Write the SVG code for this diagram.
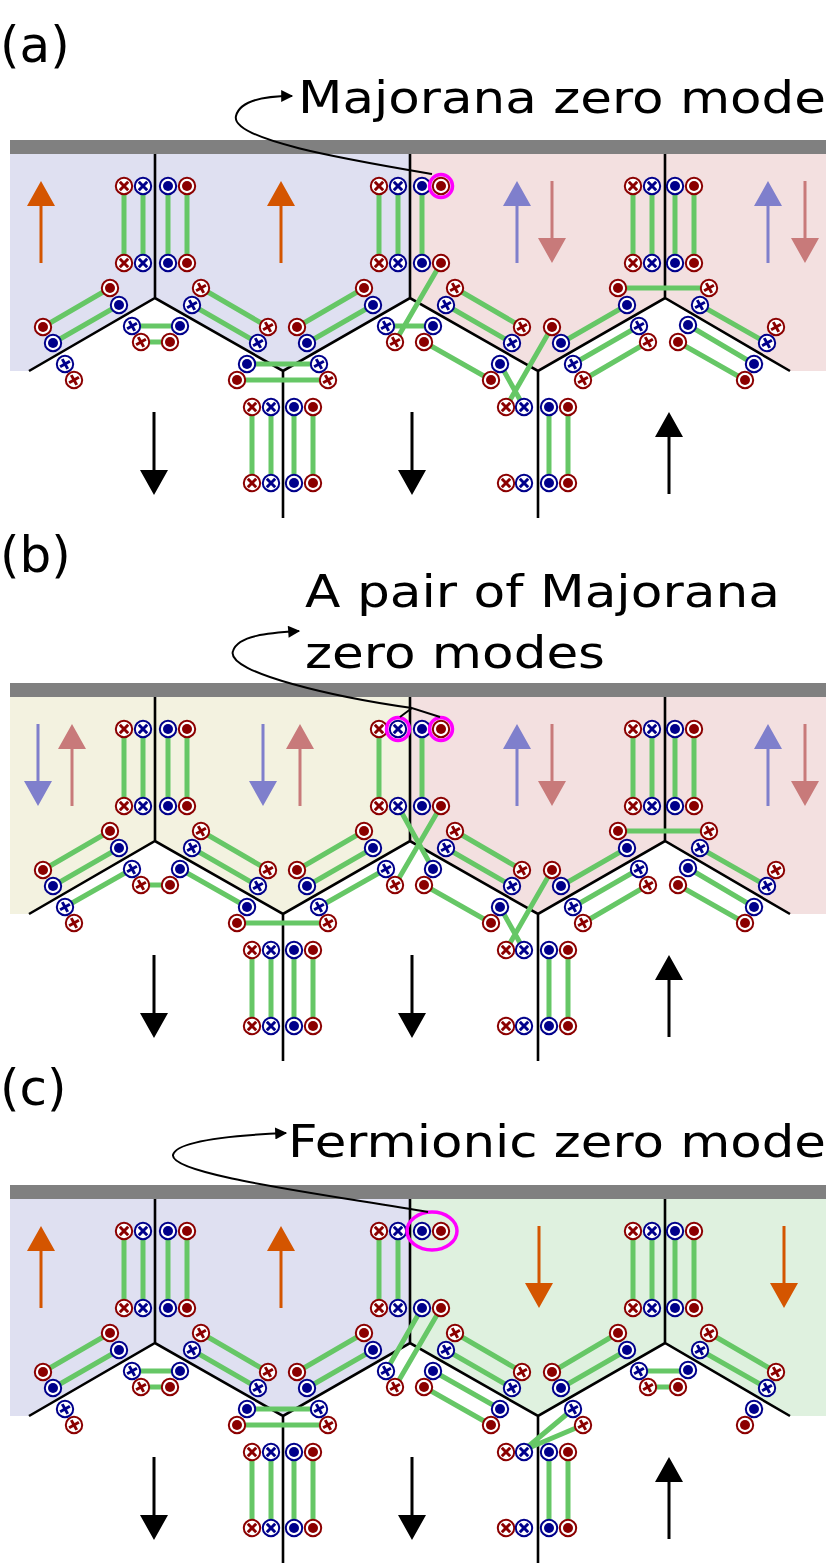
<svg xmlns="http://www.w3.org/2000/svg" xmlns:xlink="http://www.w3.org/1999/xlink" width="830" height="1563" viewBox="0 0 830 1563">
<style>
.t{font-family:"DejaVu Sans",sans-serif;font-size:45px;fill:#000}
.p{font-family:"DejaVu Sans",sans-serif;font-size:50px;fill:#000}
.b{stroke:#66c766;stroke-width:5;fill:none;stroke-linecap:butt}
.k{stroke:#000;stroke-width:2.6;fill:none}
.cr{fill:#fff;stroke:#8b0000;stroke-width:2}
.cb{fill:#fff;stroke:#00008b;stroke-width:2}
.lr{stroke:#8b0000;stroke-width:3}
.lb{stroke:#00008b;stroke-width:3}
.mg{fill:none;stroke:#ff00ff;stroke-width:3.5}
.cv{fill:none;stroke:#000;stroke-width:2}
</style>
<defs>
<g id="dR"><circle class="cr" r="8.2"/><circle r="5" fill="#8b0000"/></g>
<g id="dB"><circle class="cb" r="8.2"/><circle r="5" fill="#00008b"/></g>
<g id="xR"><circle class="cr" r="8.2"/><path class="lr" d="M-4.2,-4.2L4.2,4.2M-4.2,4.2L4.2,-4.2"/></g>
<g id="xB"><circle class="cb" r="8.2"/><path class="lb" d="M-4.2,-4.2L4.2,4.2M-4.2,4.2L4.2,-4.2"/></g>
<g id="pR"><circle class="cr" r="8.2"/><path class="lr" d="M-2.3,-5.1L2.3,5.1M-5.1,2.3L5.1,-2.3" transform="rotate(-5)"/></g>
<g id="pB"><circle class="cb" r="8.2"/><path class="lb" d="M-2.3,-5.1L2.3,5.1M-5.1,2.3L5.1,-2.3" transform="rotate(-5)"/></g>
<marker id="ah" viewBox="0 0 10 10" refX="9" refY="5" markerWidth="14" markerHeight="12" orient="auto" markerUnits="userSpaceOnUse"><path d="M0,0L10,5L0,10z"/></marker>
<g id="lattice">
<rect x="10" y="140" width="816" height="14" fill="#808080"/>
<path class="k" d="M155,154V298M410,154V298M665,154V298M29,371L155,298L283,371L410,298L538,371L665,298L790,371M283,371V518M538,371V518"/>
</g>
<g id="atoms">
<use href="#xR" x="124" y="186"/><use href="#xB" x="143" y="186"/><use href="#dB" x="168" y="186"/><use href="#dR" x="187" y="186"/>
<use href="#xR" x="124" y="263"/><use href="#xB" x="143" y="263"/><use href="#dB" x="168" y="263"/><use href="#dR" x="187" y="263"/>
<use href="#xR" x="379" y="186"/><use href="#xB" x="398" y="186"/><use href="#dB" x="422" y="186"/><use href="#dR" x="441" y="186"/>
<use href="#xR" x="379" y="263"/><use href="#xB" x="398" y="263"/><use href="#dB" x="422" y="263"/><use href="#dR" x="441" y="263"/>
<use href="#xR" x="633" y="186"/><use href="#xB" x="652" y="186"/><use href="#dB" x="675" y="186"/><use href="#dR" x="694" y="186"/>
<use href="#xR" x="633" y="263"/><use href="#xB" x="652" y="263"/><use href="#dB" x="675" y="263"/><use href="#dR" x="694" y="263"/>
<use href="#xR" x="252" y="407"/><use href="#xB" x="271" y="407"/><use href="#dB" x="294" y="407"/><use href="#dR" x="313" y="407"/>
<use href="#xR" x="252" y="483"/><use href="#xB" x="271" y="483"/><use href="#dB" x="294" y="483"/><use href="#dR" x="313" y="483"/>
<use href="#xR" x="506" y="407"/><use href="#xB" x="524" y="407"/><use href="#dB" x="549" y="407"/><use href="#dR" x="568" y="407"/>
<use href="#xR" x="506" y="483"/><use href="#xB" x="524" y="483"/><use href="#dB" x="549" y="483"/><use href="#dR" x="568" y="483"/>
<use href="#dR" x="110" y="288"/><use href="#dB" x="119" y="305"/><use href="#dR" x="43" y="327"/><use href="#dB" x="53" y="343"/>
<use href="#pB" x="65" y="364"/><use href="#pR" x="74" y="380"/>
<use href="#pB" x="132" y="326"/><use href="#dB" x="180" y="326"/><use href="#pR" x="141" y="342"/><use href="#dR" x="170" y="342"/>
<use href="#pR" x="201" y="288"/><use href="#pB" x="192" y="305"/><use href="#pR" x="268" y="327"/><use href="#pB" x="258" y="343"/>
<use href="#dR" x="364" y="288"/><use href="#dB" x="373" y="305"/><use href="#dR" x="297" y="327"/><use href="#dB" x="307" y="343"/>
<use href="#dB" x="247" y="364"/><use href="#pB" x="319" y="364"/><use href="#dR" x="237" y="380"/><use href="#pR" x="328" y="380"/>
<use href="#pB" x="386" y="326"/><use href="#dB" x="433" y="326"/><use href="#pR" x="395" y="342"/><use href="#dR" x="424" y="342"/>
<use href="#pR" x="455" y="288"/><use href="#pB" x="446" y="305"/><use href="#pR" x="522" y="327"/><use href="#pB" x="512" y="343"/>
<use href="#dB" x="500" y="364"/><use href="#dR" x="491" y="380"/><use href="#dR" x="552" y="327"/><use href="#dB" x="561" y="343"/>
<use href="#pB" x="573" y="364"/><use href="#pR" x="583" y="380"/>
<use href="#dR" x="618" y="288"/><use href="#dB" x="627" y="305"/><use href="#pB" x="639" y="326"/><use href="#pR" x="648" y="342"/>
<use href="#pR" x="709" y="288"/><use href="#pB" x="700" y="305"/><use href="#dB" x="688" y="325"/><use href="#dR" x="678" y="342"/>
<use href="#pR" x="776" y="327"/><use href="#pB" x="767" y="343"/><use href="#dB" x="754" y="364"/><use href="#dR" x="745" y="380"/>
</g>
<g id="blackArrows">
<path d="M154,412V472M412,412V472M669,494V434" stroke="#000" stroke-width="3"/>
<path d="M140,470H168L154,495zM398,470H426L412,495zM655,437H683L669,412z"/>
</g>
<path id="commonBonds" class="b" d="M124,186V263M143,186V263M168,186V263M187,186V263M633,186V263M652,186V263M675,186V263M694,186V263M252,407V483M271,407V483M294,407V483M313,407V483M549,407V483M568,407V483M110,288L43,327M119,305L53,343M201,288L268,327M192,305L258,343M364,288L297,327M373,305L307,343M455,288L522,327M446,305L512,343"/>
</defs>

<g id="panel-a">
<text class="p" x="0" y="62">(a)</text>
<path d="M10,154H410V298L283,371L155,298L29,371H10z" fill="#dfe0f1"/>
<path d="M410,154H826V371H790L665,298L538,371L410,298z" fill="#f3e0e0"/>
<use href="#lattice"/>
<g id="arrows-a">
<path d="M41,263V204M281,263V204" stroke="#d45500" stroke-width="3"/><path d="M27,206H55L41,181zM267,206H295L281,181z" fill="#d45500"/>
<path d="M517,263V204M768,263V204" stroke="#7f7fcc" stroke-width="3"/><path d="M503,206H531L517,181zM754,206H782L768,181z" fill="#7f7fcc"/>
<path d="M552,181V240M805,181V240" stroke="#c87a7a" stroke-width="3"/><path d="M538,238H566L552,263zM791,238H819L805,263z" fill="#c87a7a"/>
<use href="#blackArrows"/>
</g>
<g id="bonds-a">
<use href="#commonBonds"/>
<path class="b" d="M379,186V263M398,186V263M422,186V263M441,263L395,342M386,326H433M132,326H180M141,342H170M247,364H319M237,380H328M424,342L491,380M500,364L524,407M552,327L506,407M627,305L561,343M618,288H709M639,326L573,364M648,342L583,380M700,305L767,343M688,325L754,364M678,342L745,380"/>
</g>
<use href="#atoms"/>
<circle class="mg" cx="441" cy="186" r="11.5"/>
<g id="label-a">
<path class="cv" d="M432,174C350,160 230,140 236,116C240,100 265,96 292,96" marker-end="url(#ah)"/>
<text class="t" x="298" y="113" textLength="528" lengthAdjust="spacingAndGlyphs">Majorana zero mode</text>
</g>
</g>

<g id="panel-b" transform="translate(0,543)">
<text class="p" x="0" y="29">(b)</text>
<path d="M10,154H410V298L283,371L155,298L29,371H10z" fill="#f3f2e0"/>
<path d="M410,154H826V371H790L665,298L538,371L410,298z" fill="#f3e0e0"/>
<use href="#lattice"/>
<g id="arrows-b">
<path d="M38,181V240M263,181V240" stroke="#7f7fcc" stroke-width="3"/><path d="M24,238H52L38,263zM249,238H277L263,263z" fill="#7f7fcc"/>
<path d="M72,263V204M300,263V204" stroke="#c87a7a" stroke-width="3"/><path d="M58,206H86L72,181zM286,206H314L300,181z" fill="#c87a7a"/>
<path d="M517,263V204M768,263V204" stroke="#7f7fcc" stroke-width="3"/><path d="M503,206H531L517,181zM754,206H782L768,181z" fill="#7f7fcc"/>
<path d="M552,181V240M805,181V240" stroke="#c87a7a" stroke-width="3"/><path d="M538,238H566L552,263zM791,238H819L805,263z" fill="#c87a7a"/>
<use href="#blackArrows"/>
</g>
<g id="bonds-b">
<use href="#commonBonds"/>
<path class="b" d="M379,186V263M422,186V263M441,263L395,342M398,263L433,326M65,364L132,326M141,342H170M180,326L247,364M237,380H328M319,364L386,326M424,342L491,380M500,364L524,407M552,327L506,407M627,305L561,343M618,288H709M639,326L573,364M648,342L583,380M700,305L767,343M688,325L754,364M678,342L745,380"/>
</g>
<use href="#atoms"/>
<circle class="mg" cx="398" cy="186" r="11.5"/>
<circle class="mg" cx="441" cy="186" r="11.5"/>
<g id="label-b">
<path class="cv" d="M412,165C340,155 225,130 233,108C238,92 270,90 299,88" marker-end="url(#ah)"/>
<path class="cv" d="M400,174L412,165L440,174"/>
<text class="t" x="305" y="64" textLength="475" lengthAdjust="spacingAndGlyphs">A pair of Majorana</text>
<text class="t" x="305" y="125" textLength="300" lengthAdjust="spacingAndGlyphs">zero modes</text>
</g>
</g>

<g id="panel-c" transform="translate(0,1045)">
<text class="p" x="0" y="60">(c)</text>
<path d="M10,154H410V298L283,371L155,298L29,371H10z" fill="#dfe0f1"/>
<path d="M410,154H826V371H790L665,298L538,371L410,298z" fill="#dff1df"/>
<use href="#lattice"/>
<g id="arrows-c">
<path d="M41,263V204M281,263V204" stroke="#d45500" stroke-width="3"/><path d="M27,206H55L41,181zM267,206H295L281,181z" fill="#d45500"/>
<path d="M539,181V240M784,181V240" stroke="#d45500" stroke-width="3"/><path d="M525,238H553L539,263zM770,238H798L784,263z" fill="#d45500"/>
<use href="#blackArrows"/>
</g>
<g id="bonds-c">
<use href="#commonBonds"/>
<path class="b" d="M379,186V263M398,186V263M386,326L422,263M395,342L441,263M132,326H180M141,342H170M247,364H319M237,380H328M433,326L500,364M424,342L491,380M573,364L524,405M583,380L524,405M618,288L552,327M627,305L561,343M639,326H688M648,342H678M709,288L776,327M700,305L767,343"/>
</g>
<use href="#atoms"/>
<ellipse class="mg" cx="432" cy="186" rx="25" ry="19"/>
<g id="label-c">
<path class="cv" d="M428,167C330,150 170,130 173,110C176,95 240,90 286,88" marker-end="url(#ah)"/>
<text class="t" x="288" y="112" textLength="538" lengthAdjust="spacingAndGlyphs">Fermionic zero mode</text>
</g>
</g>
</svg>
